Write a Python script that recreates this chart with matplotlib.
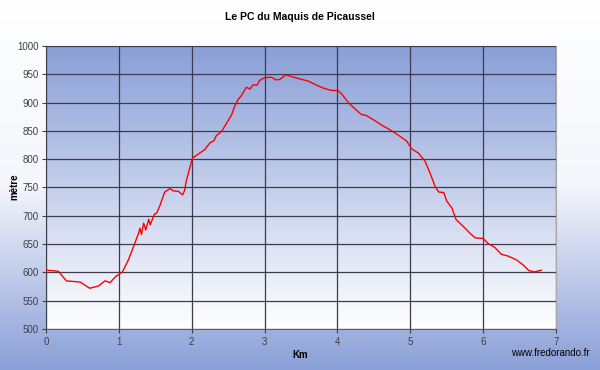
import numpy as np
import matplotlib
matplotlib.use("Agg")
import matplotlib.pyplot as plt
from matplotlib.colors import LinearSegmentedColormap

# elevation profile
distance_km = [0.0, 0.17, 0.28, 0.47, 0.60, 0.72, 0.81, 0.88, 0.95, 1.05,
               1.13, 1.20, 1.27, 1.29, 1.31, 1.34, 1.37, 1.41, 1.43, 1.49,
               1.52, 1.56, 1.63, 1.70, 1.75, 1.82, 1.875, 1.90, 1.93, 2.01,
               2.09, 2.18, 2.25, 2.30, 2.34, 2.41, 2.48, 2.55, 2.59, 2.64,
               2.68, 2.75, 2.80, 2.84, 2.90, 2.93, 3.00, 3.09, 3.16, 3.21,
               3.29, 3.37, 3.48, 3.60, 3.71, 3.80, 3.90, 4.01, 4.06, 4.15,
               4.24, 4.33, 4.40, 4.49, 4.61, 4.72, 4.83, 4.95, 5.02, 5.11,
               5.20, 5.27, 5.34, 5.39, 5.46, 5.50, 5.57, 5.63, 5.73, 5.82,
               5.89, 6.00, 6.07, 6.16, 6.25, 6.34, 6.46, 6.55, 6.63, 6.71,
               6.80]
altitude_m = [604, 602, 585, 583, 572, 576, 585, 582, 592, 601,
              622, 645, 669, 678, 667, 687, 675, 694, 684, 703,
              705, 717, 742, 748, 744, 743, 737, 744, 764, 802,
              809, 817, 829, 832, 842, 849, 864, 879, 894, 906,
              912, 927, 924, 931, 931, 939, 944, 945, 940, 941,
              949, 946, 942, 938, 931, 926, 922, 921, 915, 900,
              889, 879, 877, 870, 860, 852, 843, 832, 818, 811,
              797, 776, 752, 742, 741, 726, 714, 693, 681, 669,
              661, 660, 651, 644, 632, 629, 622, 613, 603, 601,
              604]

x_ticks = [0, 1, 2, 3, 4, 5, 6, 7]
y_ticks = [500, 550, 600, 650, 700, 750, 800, 850, 900, 950, 1000]

plt.rcParams['font.family'] = ['Liberation Sans', 'DejaVu Sans']

fig = plt.figure(figsize=(6, 3.7), dpi=100)

# figure background: white at top, blue at bottom
bg = LinearSegmentedColormap.from_list("bg", ["#ffffff", "#f4f6fc", "#8a9fd8"])
bg_ax = fig.add_axes([0, 0, 1, 1], zorder=-10)
bg_ax.imshow(np.linspace(0, 1, 256).reshape(-1, 1), cmap=bg, aspect='auto',
             extent=[0, 1, 0, 1], origin='upper')
bg_ax.axis('off')

ax = fig.add_axes([46 / 600, 1 - 329 / 370, 510 / 600, 283 / 370])

# plot area: blue at top, white at bottom
pa = LinearSegmentedColormap.from_list("pa", ["#8a9fd8", "#ffffff"])
ax.imshow(np.linspace(0, 1, 256).reshape(-1, 1), cmap=pa, aspect='auto',
          extent=[0, 7, 500, 1000], origin='upper', zorder=0)

ax.plot(distance_km, altitude_m, color='#ff0000', linewidth=1.0, zorder=3)

ax.set_xlim(0, 7)
ax.set_ylim(500, 1000)
ax.set_xticks(x_ticks)
ax.set_yticks(y_ticks)
ax.grid(True, color='#3c3c4c', linewidth=0.9, zorder=1)
ax.set_axisbelow(False)
ax.tick_params(labelsize=7, colors='#404040', length=3, width=0.8, pad=2.5)
for name in ['top', 'right']:
    ax.spines[name].set_color('#a8a8a8')
for name in ['left', 'bottom']:
    ax.spines[name].set_color('#606060')

fig.text(0.5, 1 - 17 / 370, 'Le PC du Maquis de Picaussel', ha='center', va='center',
         fontsize=7.5, fontweight='bold', color='#000000')
fig.text(14 / 600, 1 - 187 / 370, 'mètre', rotation=90, ha='center', va='center',
         fontsize=7, fontweight='bold', color='#000000')
fig.text(300 / 600, 1 - 355 / 370, 'Km', ha='center', va='center',
         fontsize=7, fontweight='bold', color='#000000')
fig.text(590 / 600, 1 - 353 / 370, 'www.fredorando.fr', ha='right', va='center',
         fontsize=7, color='#000000')

fig.savefig('out.png', dpi=100)
